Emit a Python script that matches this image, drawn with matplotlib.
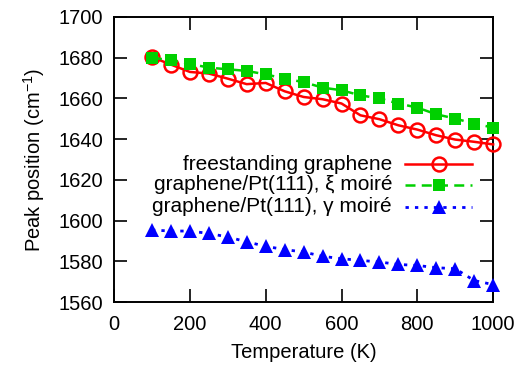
import matplotlib
matplotlib.use("Agg")
import matplotlib.pyplot as plt
from matplotlib.lines import Line2D

plt.rcParams['font.family'] = ['Liberation Sans', 'DejaVu Sans']
plt.rcParams['mathtext.fontset'] = 'custom'
plt.rcParams['mathtext.rm'] = 'Liberation Sans'

temperature = [100, 150, 200, 250, 300, 350, 400, 450, 500, 550,
               600, 650, 700, 750, 800, 850, 900, 950, 1000]
freestanding = [1680.3, 1676.6, 1673.0, 1672.2, 1669.7, 1667.0, 1667.6, 1663.5, 1660.7, 1659.6,
                1657.5, 1651.7, 1649.8, 1646.8, 1644.7, 1641.9, 1639.8, 1638.7, 1637.4]
xi_moire = [1680.0, 1678.7, 1677.0, 1675.1, 1674.3, 1673.5, 1671.8, 1669.7, 1668.0, 1665.3,
            1664.0, 1661.5, 1660.0, 1657.5, 1655.5, 1652.2, 1650.1, 1647.6, 1645.7]
gamma_moire = [1595.4, 1594.9, 1594.9, 1593.7, 1592.0, 1589.6, 1587.4, 1585.8, 1584.6, 1582.5,
               1581.3, 1580.5, 1579.7, 1578.5, 1578.0, 1576.9, 1576.4, 1570.6, 1568.6]
labels = ["freestanding graphene", "graphene/Pt(111), \u03be moir\u00e9", "graphene/Pt(111), \u03b3 moir\u00e9"]
xticks = [0, 200, 400, 600, 800, 1000]
yticks = [1560, 1580, 1600, 1620, 1640, 1660, 1680, 1700]

fig = plt.figure(figsize=(5.28, 3.68), dpi=100)
ax = fig.add_axes([0.216, 0.179, 0.718, 0.775])

red = '#ff0000'
green = '#00d000'
blue = '#0000ff'
FS = 14.5

styles = [
    dict(color=red, ls='-', marker='o', ms=10, mfc='none', mec=red, mew=1.8, lw=1.8),
    dict(color=green, ls=(0, (4, 2.5)), marker='s', ms=9, mfc=green, mec=green, mew=0, lw=1.8),
    dict(color=blue, ls=(0, (1.2, 2.2)), marker='^', ms=10, mfc=blue, mec=blue, mew=0, lw=2.0),
]
series = [freestanding, xi_moire, gamma_moire]
for y, st in zip(series, styles):
    ax.plot(temperature, y, **st, clip_on=False, zorder=3)

ax.set_xlim(0, 1000)
ax.set_ylim(1560, 1700)
ax.set_xticks(xticks)
ax.set_yticks(yticks)
ax.tick_params(direction='in', length=9.5, width=1.2, top=True, right=True,
               labelsize=FS)
ax.tick_params(axis='x', pad=9)
ax.tick_params(axis='y', pad=8)
for sp in ax.spines.values():
    sp.set_linewidth(1.4)
ax.set_xlabel('Temperature (K)', fontsize=FS, labelpad=7)
ax.set_ylabel('Peak position (cm$^{-1}$)', fontsize=FS, labelpad=8)

# legend (manual, right-aligned text)
W, H = 528, 368
def px(x, y):
    return x / W, 1 - y / H
rows = [164, 185, 207]
for lab, st, ry in zip(labels, styles, rows):
    tx, ty = px(392, ry)
    fig.text(tx, ty, lab, ha='right', va='center', fontsize=FS + 0.5)
    x0, _ = px(405, ry)
    x1, _ = px(472, ry)
    xm, _ = px(438.5, ry)
    ln = Line2D([x0, xm, x1], [ty, ty, ty], transform=fig.transFigure,
                markevery=[1], **st)
    fig.add_artist(ln)

fig.savefig('out.png', dpi=100)
